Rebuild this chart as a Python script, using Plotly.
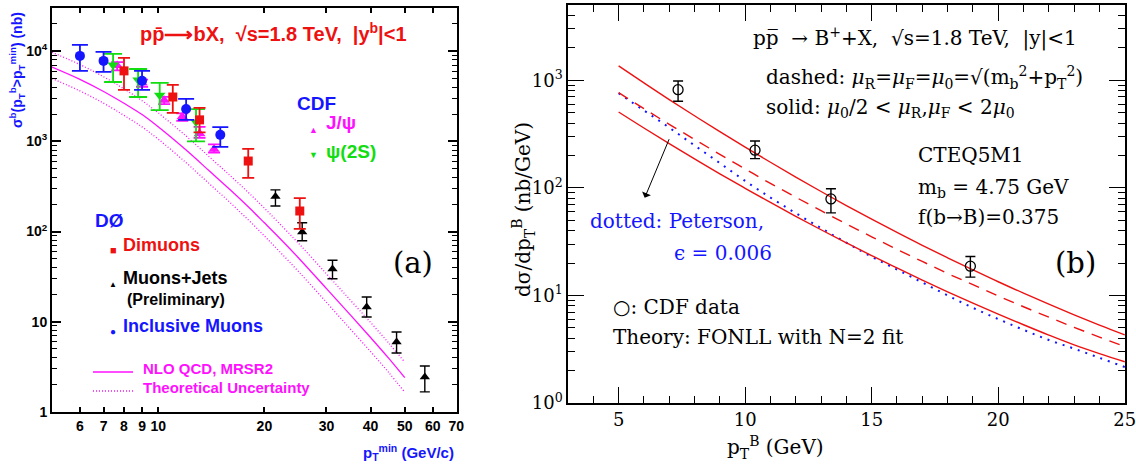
import math
import plotly.graph_objects as go

W, H = 1136, 464
OFF = 0  # body margin is removed in the page via post_script

# ---------------- Panel (a): b-quark cross sections ----------------
incl_x  = [6.0, 7.0, 9.0, 12.0, 15.0]
incl_y  = [8850, 7790, 4680, 2280, 1180]
incl_hi = [11700, 9800, 6040, 2950, 1440]
incl_lo = [6040, 5880, 3720, 1730, 867]

psi2s_x  = [7.45, 8.77, 10.1, 12.8]
psi2s_y  = [7030, 4800, 3250, 1640]
psi2s_hi = [9300, 6340, 4440, 2280]
psi2s_lo = [4550, 3100, 2220, 1000]

jpsi_x  = [7.65, 9.0, 10.4, 11.7, 13.1, 14.4]
jpsi_y  = [6950, 4440, 2860, 1870, 1225, 817]
jpsi_hi = [7570, 4830, 3110, 2040, 1450, 927]
jpsi_lo = [6120, 4010, 2580, 1690, 1096, 750]

dimu_x  = [8.0, 11.0, 13.1, 18.0, 25.2]
dimu_y  = [6040, 3100, 1730, 605, 169]
dimu_hi = [8400, 4220, 2350, 824, 235]
dimu_lo = [3720, 2070, 1260, 393, 107]

mjet_x  = [21.5, 25.6, 31.2, 39.0, 47.4, 57.0]
mjet_y  = [244, 99, 38.5, 14.6, 5.97, 2.44]
mjet_hi = [290, 125, 48, 18.8, 7.7, 3.24]
mjet_lo = [192, 79, 30, 11.3, 4.5, 1.67]

nlo_x  = [5, 6, 7, 8, 9, 10, 12, 14, 16, 18, 20, 22, 25, 30, 35, 40, 45, 50]
nlo_c  = [6650, 4860, 3570, 2640, 1980, 1450, 800, 465, 290, 188, 125, 86, 51, 23.3, 12.0, 6.7, 3.95, 2.4]
nlo_up = [9700, 7100, 5200, 3820, 2822, 2073, 1144, 667, 417, 272, 182, 124, 74.1, 34.0, 17.5, 9.84, 5.83, 3.57]
nlo_dn = [4980, 3620, 2650, 1940, 1447, 1059, 580, 336, 209, 135, 89.5, 61.0, 36.0, 16.4, 8.36, 4.67, 2.75, 1.66]

a_xticks = [6, 7, 8, 9, 10, 20, 30, 40, 50, 60, 70]
a_yticks = [1, 10, 100, 1000, 10000]
a_ylabels = ["1", "10", "10<sup>2</sup>", "10<sup>3</sup>", "10<sup>4</sup>"]

# ---------------- Panel (b): B+ cross section, FONLL ----------------
cdf_x  = [7.35, 10.39, 13.39, 18.9]
cdf_y  = [819, 224, 79, 18.7]
cdf_hi = [986, 273, 98, 23.0]
cdf_lo = [638, 187, 58.6, 14.8]

fonll_x  = [5, 6, 7, 8, 9, 10, 11, 12, 13, 14, 15, 16, 17, 18, 19, 20, 21, 22, 23, 24, 25]
fonll_up = [1361, 946, 662, 468, 333, 239, 173, 126, 92.5, 68.5, 51.2, 38.5, 29.2, 22.4, 17.3, 13.4, 10.5, 8.3, 6.6, 5.3, 4.3]
fonll_c  = [767, 545, 390, 282, 205, 150, 110, 81.9, 61.3, 46.2, 35.1, 26.8, 20.7, 16.0, 12.6, 9.9, 7.85, 6.28, 5.05, 4.10, 3.35]
fonll_dn = [507, 360, 258, 186, 135, 99.1, 73.2, 54.4, 40.8, 30.8, 23.4, 18.0, 13.9, 10.8, 8.48, 6.70, 5.34, 4.28, 3.47, 2.88, 2.42]
peterson = [759, 525, 363, 248, 170, 116, 81.3, 58.2, 42.2, 30.9, 22.9, 17.4, 13.2, 10.0, 7.67, 6.03, 4.79, 3.85, 3.2, 2.63, 2.16]

b_xticks = [5, 10, 15, 20, 25]
b_yticks = [1, 10, 100, 1000]
b_ylabels = ["10<sup>0</sup>", "10<sup>1</sup>", "10<sup>2</sup>", "10<sup>3</sup>"]

# colours
RED, BLUE, MAG, GRN = "#ee1111", "#1515ff", "#ff11ff", "#11dd11"
SANS, SERIF = "Liberation Sans", "DejaVu Serif"


def px(x):
    return (x - OFF) / W


def py(y):
    return 1 - (y - OFF) / H


def err(y, hi, lo, color, width, thick=1.8):
    return dict(type="data", symmetric=False,
                array=[h - v for h, v in zip(hi, y)],
                arrayminus=[v - l for v, l in zip(y, lo)],
                color=color, width=width, thickness=thick)


fig = go.Figure()

# ---- panel (a) traces ----
for xs, ys, dash in [(nlo_x, nlo_up, "1px,2px"), (nlo_x, nlo_dn, "1px,2px"), (nlo_x, nlo_c, "solid")]:
    fig.add_trace(go.Scatter(x=xs, y=ys, mode="lines", line=dict(color=MAG, width=1.3, dash=dash, shape="spline"),
                             xaxis="x", yaxis="y", hoverinfo="skip"))

fig.add_trace(go.Scatter(x=mjet_x, y=mjet_y, mode="markers", xaxis="x", yaxis="y",
                         marker=dict(symbol="triangle-up", size=9, color="black"),
                         error_y=err(mjet_y, mjet_hi, mjet_lo, "black", 5, 1.4)))
fig.add_trace(go.Scatter(x=jpsi_x, y=jpsi_y, mode="markers", xaxis="x", yaxis="y",
                         marker=dict(symbol="triangle-up", size=10, color=MAG),
                         error_y=err(jpsi_y, jpsi_hi, jpsi_lo, MAG, 6)))
fig.add_trace(go.Scatter(x=psi2s_x, y=psi2s_y, mode="markers", xaxis="x", yaxis="y",
                         marker=dict(symbol="triangle-down", size=10, color=GRN),
                         error_y=err(psi2s_y, psi2s_hi, psi2s_lo, GRN, 9)))
fig.add_trace(go.Scatter(x=dimu_x, y=dimu_y, mode="markers", xaxis="x", yaxis="y",
                         marker=dict(symbol="square", size=9, color=RED),
                         error_y=err(dimu_y, dimu_hi, dimu_lo, RED, 6)))
fig.add_trace(go.Scatter(x=incl_x, y=incl_y, mode="markers", xaxis="x", yaxis="y",
                         marker=dict(symbol="circle", size=10, color=BLUE),
                         error_y=err(incl_y, incl_hi, incl_lo, BLUE, 8)))

# ---- panel (b) traces ----
fig.add_trace(go.Scatter(x=fonll_x, y=peterson, mode="lines", xaxis="x2", yaxis="y2",
                         line=dict(color=BLUE, width=2, dash="2px,6px", shape="spline"), hoverinfo="skip"))
fig.add_trace(go.Scatter(x=fonll_x, y=fonll_c, mode="lines", xaxis="x2", yaxis="y2",
                         line=dict(color=RED, width=1.4, dash="11px,8px", shape="spline"), hoverinfo="skip"))
for ys in (fonll_up, fonll_dn):
    fig.add_trace(go.Scatter(x=fonll_x, y=ys, mode="lines", xaxis="x2", yaxis="y2",
                             line=dict(color=RED, width=1.4, shape="spline"), hoverinfo="skip"))
fig.add_trace(go.Scatter(x=cdf_x, y=cdf_y, mode="markers", xaxis="x2", yaxis="y2",
                         marker=dict(symbol="circle-open", size=10, color="black", line=dict(width=1.3)),
                         error_y=err(cdf_y, cdf_hi, cdf_lo, "black", 5, 1.4)))

a_minor = [m * 10 ** k for k in range(0, 5) for m in range(2, 10) if m * 10 ** k < 30000]
b_minor = [m * 10 ** k for k in range(0, 4) for m in range(2, 10) if m * 10 ** k < 5000]

axis_common = dict(showline=True, linecolor="black", mirror="allticks", showgrid=False, zeroline=False,
                   ticks="inside", tickcolor="black", automargin=False, ticklabeloverflow="allow")

fig.update_layout(
    width=W, height=H, margin=dict(l=0, r=0, t=0, b=0, autoexpand=False),
    paper_bgcolor="white", plot_bgcolor="white", showlegend=False,
    xaxis=dict(domain=[px(52), px(457)], anchor="y", type="log",
               range=[math.log10(5), math.log10(70) + 0.002],
               tickmode="array", tickvals=a_xticks, ticktext=[str(v) for v in a_xticks],
               ticklen=5, tickwidth=1.5, linewidth=2,
               tickfont=dict(family=SANS, size=14, color="black", weight="bold"), **axis_common),
    yaxis=dict(domain=[py(412), py(8)], anchor="x", type="log", range=[0, 4.478],
               tickmode="array", tickvals=a_yticks, ticktext=a_ylabels,
               ticklen=9, tickwidth=1.5, linewidth=2,
               minor=dict(tickmode="array", tickvals=a_minor, ticks="inside", ticklen=5,
                          tickcolor="black", tickwidth=1, showgrid=False),
               tickfont=dict(family=SANS, size=14, color="black", weight="bold"), **axis_common),
    xaxis2=dict(domain=[px(568), px(1125)], anchor="y2", range=[3, 25.01],
                tickmode="array", tickvals=b_xticks, ticklen=16, tickwidth=1.3, linewidth=1.5,
                minor=dict(dtick=1, ticks="inside", ticklen=7, tickcolor="black", tickwidth=1, showgrid=False),
                tickfont=dict(family=SERIF, size=18, color="black"), **axis_common),
    yaxis2=dict(domain=[py(403), py(5)], anchor="x2", type="log", range=[0, 3.7],
                tickmode="array", tickvals=b_yticks, ticktext=b_ylabels,
                ticklen=16, tickwidth=1.3, linewidth=1.5,
                minor=dict(tickmode="array", tickvals=b_minor, ticks="inside", ticklen=7,
                           tickcolor="black", tickwidth=1, showgrid=False),
                tickfont=dict(family=SERIF, size=18, color="black"), **axis_common),
)

ann = []


def text(x, y, s, size, color="black", family=SANS, bold=False, anchor="left", angle=0):
    f = dict(family=family, size=size, color=color)
    if bold:
        f["weight"] = "bold"
    ann.append(dict(x=px(x), y=py(y), xref="paper", yref="paper", text=s, showarrow=False,
                    xanchor=anchor, yanchor="middle", font=f, textangle=angle))


# panel (a) texts
text(138, 33, "pp\u0304\u27f6bX,  \u221as=1.8 TeV,  |y<sup>b</sup>|&lt;1", 20, RED, bold=True)
text(295, 103, "CDF", 19, BLUE, bold=True)
text(313, 130, "\u25b2", 9, MAG, bold=True, anchor="center")
text(324, 122, "J/\u03c8", 19, MAG, bold=True)
text(313, 155, "\u25bc", 9, GRN, bold=True, anchor="center")
text(324, 151, "\u03c8(2S)", 19, GRN, bold=True)
text(93, 221, "D\u00d8", 19, BLUE, bold=True)
text(113, 250, "\u25a0", 11, RED, bold=True, anchor="center")
text(121, 245, "Dimuons", 18, RED, bold=True)
text(113, 284, "\u25b2", 8, "black", bold=True, anchor="center")
text(121, 278, "Muons+Jets", 18, "black", bold=True)
text(125, 299, "(Preliminary)", 16, "black", bold=True)
text(113, 331, "\u25cf", 10, BLUE, bold=True, anchor="center")
text(121, 326, "Inclusive Muons", 18, BLUE, bold=True)
text(141, 368, "NLO QCD, MRSR2", 15, MAG, bold=True)
text(141, 387, "Theoretical Uncertainty", 15, MAG, bold=True)
text(413, 263, "(a)", 29, "black", family=SERIF, anchor="center")
text(17, 70, "\u03c3<sup>b</sup>(p<sub>T</sub><sup>b</sup>&gt;p<sub>T</sub><sup>min</sup>) (nb)", 14, BLUE,
     bold=True, anchor="center", angle=-90)
text(456, 452, "p<sub>T</sub><sup>min</sup> (GeV/c)", 15, BLUE, bold=True, anchor="right")

# panel (b) texts
FS = 20
text(751, 38, "pp\u0305  \u2192 B<sup>+</sup>+X,  \u221as=1.8 TeV,  |y|&lt;1", FS, family=SERIF)
text(764, 77, "dashed: <i>\u03bc</i><sub>R</sub>=<i>\u03bc</i><sub>F</sub>=<i>\u03bc</i><sub>0</sub>="
              "\u221a(m<sub>b</sub><sup>2</sup>+p<sub>T</sub><sup>2</sup>)", FS, family=SERIF)
text(764, 108, "solid: <i>\u03bc</i><sub>0</sub>/2 &lt; <i>\u03bc</i><sub>R</sub>,<i>\u03bc</i><sub>F</sub>"
               " &lt; 2<i>\u03bc</i><sub>0</sub>", FS, family=SERIF)
text(916, 155, "CTEQ5M1", FS, family=SERIF)
text(916, 188, "m<sub>b</sub> = 4.75 GeV", FS, family=SERIF)
text(916, 217, "f(b\u2192B)=0.375", FS, family=SERIF)
text(588, 221, "dotted: Peterson,", FS, BLUE, family=SERIF)
text(672, 253, "\u03f5 = 0.006", FS, BLUE, family=SERIF)
text(1075, 263, "(b)", 29, family=SERIF, anchor="center")
text(611, 307, "\u25cb: CDF data", FS, family=SERIF)
text(611, 337, "Theory: FONLL with N=2 fit", FS, family=SERIF)
text(523, 210, "d\u03c3/dp<sub>T</sub><sup>B</sup> (nb/GeV)", FS, family=SERIF, anchor="center", angle=-90)
text(775, 447, "p<sub>T</sub><sup>B</sup> (GeV)", FS, family=SERIF, anchor="center")

# arrow in panel (b)
ann.append(dict(x=6.03, y=1.907, xref="x2", yref="y2", ax=7.02, ay=2.466, axref="x2", ayref="y2",
                text="", showarrow=True, arrowhead=1, arrowsize=1.6, arrowwidth=1, arrowcolor="black"))

fig.update_layout(annotations=ann)

# legend line samples in panel (a)
fig.update_layout(shapes=[
    dict(type="line", xref="paper", yref="paper", x0=px(93), x1=px(133), y0=py(372), y1=py(372),
         line=dict(color=MAG, width=1.3)),
    dict(type="line", xref="paper", yref="paper", x0=px(93), x1=px(133), y0=py(391), y1=py(391),
         line=dict(color=MAG, width=1.3, dash="1px,2px")),
])

fig.write_html("out.html", config={"displayModeBar": False},
               post_script="document.body.style.margin='0px';document.body.style.overflow='hidden';")
